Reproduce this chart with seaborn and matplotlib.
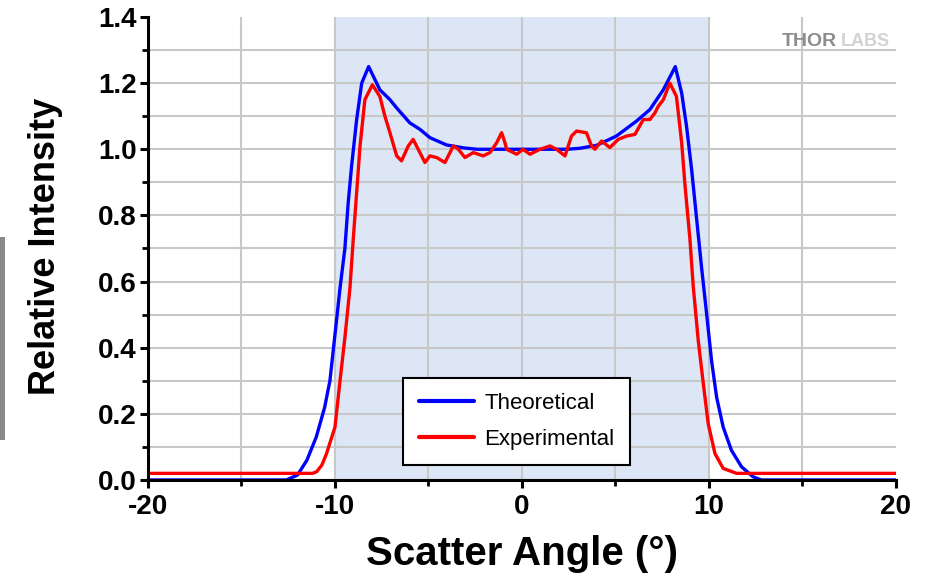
import matplotlib
matplotlib.use("Agg")
import matplotlib.pyplot as plt
from matplotlib.patches import Rectangle
from matplotlib.ticker import MultipleLocator, FormatStrFormatter
import seaborn as sns
import pandas as pd

# ---- data ----
theo_x = [-20, -12.6, -12.0, -11.5, -11.0, -10.55, -10.27, -10.0, -9.73, -9.47, -9.29,
          -9.11, -8.84, -8.57, -8.2, -7.6, -7.06, -6.7, -6.0, -5.45, -4.92, -4.03,
          -3.1, -2.4, 0.0, 2.4, 3.1, 4.0, 5.05, 6.12, 6.84, 7.56, 8.2, 8.54, 8.8,
          9.07, 9.34, 9.6, 9.87, 10.14, 10.41, 10.76, 11.2, 11.74, 12.35, 12.8, 20]
theo_y = [0.0, 0.0, 0.015, 0.06, 0.13, 0.22, 0.30, 0.44, 0.58, 0.70, 0.84,
          0.95, 1.09, 1.20, 1.25, 1.18, 1.15, 1.125, 1.08, 1.06, 1.035, 1.013,
          1.004, 1.0, 1.0, 1.0, 1.003, 1.012, 1.04, 1.085, 1.12, 1.18, 1.25, 1.17, 1.07,
          0.94, 0.79, 0.645, 0.505, 0.36, 0.25, 0.16, 0.09, 0.04, 0.01, 0.0, 0.0]

exp_x = [-20, -11.2, -10.98, -10.7, -10.45, -10.0, -9.73, -9.47, -9.2, -9.02, -8.84,
         -8.66, -8.4, -8.0, -7.6, -7.33, -7.06, -6.7, -6.44, -6.08, -5.82, -5.55,
         -5.19, -4.92, -4.56, -4.12, -3.67, -3.4, -3.05, -2.6, -2.07, -1.71, -1.35,
         -1.09, -0.91, -0.82, -0.28, 0.05, 0.43, 0.96, 1.5, 1.85, 2.3, 2.65, 2.92,
         3.45, 3.72, 3.9, 4.26, 4.7, 5.15, 5.6, 6.04, 6.49, 6.84, 7.11, 7.29, 7.56,
         7.91, 8.26, 8.54, 8.72, 8.98, 9.16, 9.43, 9.7, 9.96, 10.32, 10.76, 11.48, 20]
exp_y = [0.02, 0.02, 0.025, 0.045, 0.08, 0.16, 0.30, 0.43, 0.58, 0.73, 0.87,
         1.01, 1.15, 1.195, 1.16, 1.10, 1.05, 0.98, 0.965, 1.01, 1.03, 1.0,
         0.96, 0.98, 0.975, 0.96, 1.01, 1.0, 0.975, 0.99, 0.98, 0.99, 1.02,
         1.05, 1.02, 1.0, 0.985, 1.0, 0.985, 1.0, 1.01, 1.0, 0.98, 1.04, 1.055,
         1.05, 1.01, 1.0, 1.025, 1.005, 1.03, 1.04, 1.045, 1.09, 1.09, 1.11, 1.13, 1.15,
         1.20, 1.16, 1.02, 0.89, 0.73, 0.585, 0.42, 0.29, 0.17, 0.08, 0.035, 0.02, 0.02]

series_names = ["Theoretical", "Experimental"]
series_colors = ["#0000ff", "#ff0000"]
x_label = "Scatter Angle (°)"
y_label = "Relative Intensity"

df = pd.concat([
    pd.DataFrame({"angle": theo_x, "intensity": theo_y, "series": series_names[0]}),
    pd.DataFrame({"angle": exp_x, "intensity": exp_y, "series": series_names[1]}),
], ignore_index=True)

sns.set_style("white")
plt.rcParams["font.family"] = ["Liberation Sans", "DejaVu Sans"]
plt.rcParams["axes.unicode_minus"] = False
for k in ["text.color", "axes.labelcolor", "xtick.color", "ytick.color"]:
    plt.rcParams[k] = "black"

fig = plt.figure(figsize=(9.33, 5.76), dpi=100)
ax = fig.add_axes([0.1586, 0.1667, 0.8017, 0.8038])

ax.axvspan(-10, 10, color="#dce6f5", zorder=0.2, lw=0)

sns.lineplot(data=df, x="angle", y="intensity", hue="series", sort=False,
             palette=dict(zip(series_names, series_colors)), linewidth=2.4,
             estimator=None, ax=ax, zorder=3)

ax.set_xlim(-20, 20)
ax.set_ylim(0, 1.4)
ax.xaxis.set_major_locator(MultipleLocator(10))
ax.xaxis.set_minor_locator(MultipleLocator(5))
ax.yaxis.set_major_locator(MultipleLocator(0.2))
ax.yaxis.set_minor_locator(MultipleLocator(0.1))
ax.yaxis.set_major_formatter(FormatStrFormatter("%.1f"))

ax.set_axisbelow(True)
ax.grid(True, which="both", color="#c8c8c8", linewidth=1.5)

for s in ["top", "right"]:
    ax.spines[s].set_visible(False)
for s in ["left", "bottom"]:
    ax.spines[s].set_color("black")
    ax.spines[s].set_linewidth(2.2)
    ax.spines[s].set_zorder(5)

ax.tick_params(which="major", direction="out", length=6, width=2.2, color="black",
               labelsize=20, pad=2, left=True, bottom=True)
ax.tick_params(which="minor", direction="out", length=4, width=2.0, color="black",
               left=True, bottom=True)
ax.tick_params(axis="x", which="major", pad=4)

fig.canvas.draw()
for t in ax.yaxis.get_major_ticks():
    if abs(t.get_loc() - 1.4) < 1e-6:
        t.gridline.set_visible(False)
for t in ax.xaxis.get_major_ticks():
    if abs(t.get_loc() - 20) < 1e-6:
        t.gridline.set_visible(False)
for lab in ax.get_xticklabels() + ax.get_yticklabels():
    lab.set_fontweight("bold")

ax.set_xlabel(x_label, fontsize=29, fontweight="bold")
ax.set_ylabel(y_label, fontsize=26, fontweight="bold")
ax.xaxis.set_label_coords(0.5, -0.118)
ax.yaxis.set_label_coords(-0.113, 0.505)

leg = ax.legend(loc="lower left", bbox_to_anchor=(0.341, 0.032), borderaxespad=0,
                frameon=True, fancybox=False, fontsize=16, handlelength=2.5,
                handletextpad=0.45, borderpad=0.7, labelspacing=0.65)
leg.get_frame().set_edgecolor("black")
leg.get_frame().set_linewidth(1.5)
leg.get_frame().set_facecolor("white")
leg.get_frame().set_alpha(1)
leg.set_zorder(6)
for line in leg.get_lines():
    line.set_linewidth(3)

# logo text
fig.text(782 / 933, 1 - 41 / 576, "THOR", color="#8c8c8c", fontsize=14,
         fontweight="bold", ha="left", va="center")
fig.text(841 / 933, 1 - 41 / 576, "LABS", color="#d2d2d2", fontsize=13,
         fontweight="bold", ha="left", va="center")

# grey edge strip on the left
fig.add_artist(Rectangle((0, 1 - 440 / 576), 5 / 933, 203 / 576,
                         transform=fig.transFigure, color="#8a8a8a", lw=0))

fig.savefig("out.png", dpi=100)
